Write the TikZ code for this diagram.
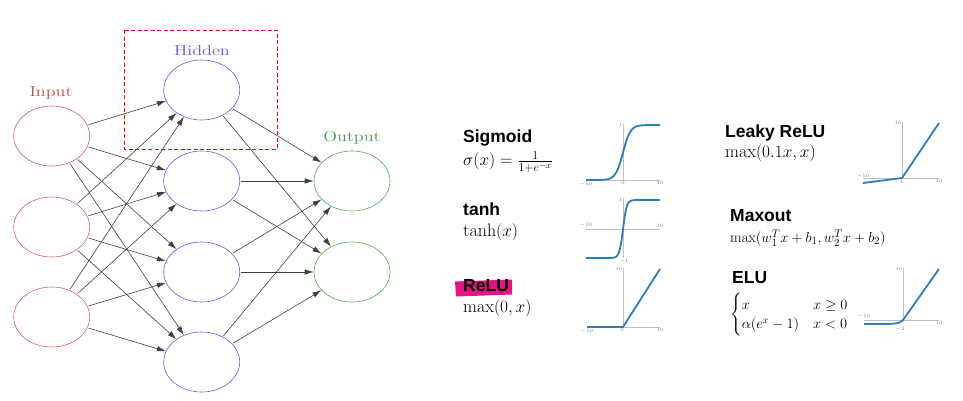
\documentclass[tikz,border=0pt]{standalone}
\usepackage{amsmath}
\usepackage{fontspec}
\newfontfamily\titlefont{Liberation Sans}
\usetikzlibrary{arrows.meta, shapes.geometric}
\definecolor{inred}{RGB}{215,95,95}
\definecolor{hidblue}{RGB}{95,95,225}
\definecolor{outgreen}{RGB}{80,170,80}
\definecolor{curveblue}{RGB}{45,125,185}
\definecolor{markpink}{RGB}{228,20,130}

\begin{document}
\begin{tikzpicture}[
                x = 10pt, y = 10pt,
                neuron/.style = {
                    ellipse,
                    minimum width  = 76pt,
                    minimum height = 60pt,
                    inner sep      = 0pt,
                    line width     = 0.6pt
                },
                netlabel/.style = {font = \fontsize{14.5}{16}\selectfont},
                synapse/.style = {
                    -{Latex[length = 9pt, width = 5.5pt]},
                    draw       = black!75,
                    line width = 0.6pt,
                    shorten <  = 1pt
                },
                actname/.style = {anchor = west, inner sep = 0pt, font = \titlefont\bfseries\fontsize{17.5}{20}\selectfont},
                actformula/.style = {anchor = west, inner sep = 0pt, font = \fontsize{18}{21}\selectfont},
                smallformula/.style = {anchor = west, inner sep = 0pt, font = \fontsize{15}{17}\selectfont},
                plotaxis/.style = {draw = black!25, line width = 0.4pt},
                plotcurve/.style = {draw = curveblue, line width = 1.8pt, line join = round},
                ticklabel/.style = {inner sep = 0.5pt, text = black!55, font = \fontsize{3.5}{4}\selectfont}
            ]

                \useasboundingbox (0, 0) rectangle (96.3, -40);

                % network
                \node[neuron, draw = inred] (in1) at (5.17, -13.6) {};
                \node[neuron, draw = inred] (in2) at (5.17, -22.7) {};
                \node[neuron, draw = inred] (in3) at (5.17, -31.7) {};

                \node[neuron, draw = hidblue] (hid1) at (20.17, -9.0) {};
                \node[neuron, draw = hidblue] (hid2) at (20.17, -18.1) {};
                \node[neuron, draw = hidblue] (hid3) at (20.17, -27.2) {};
                \node[neuron, draw = hidblue] (hid4) at (20.17, -36.2) {};

                \node[neuron, draw = outgreen] (out1) at (35.2, -18.1) {};
                \node[neuron, draw = outgreen] (out2) at (35.2, -27.2) {};

                \node[netlabel, text = inred!85!black] (inlabel) at (5.1, -9.3) {\scalebox{1.25}[1]{Input}};
                \node[netlabel, text = hidblue] (hidlabel) at (20.2, -5.1) {\scalebox{1.25}[1]{Hidden}};
                \node[netlabel, text = outgreen!90!black] (outlabel) at (35.2, -13.8) {\scalebox{1.25}[1]{Output}};

                \draw[red, dashed, line width = 0.8pt, dash pattern = on 4pt off 2.5pt] (12.4, -3.0) rectangle (27.7, -14.9);

                \draw[synapse] (in1) -- (hid1);
                \draw[synapse] (in1) -- (hid2);
                \draw[synapse] (in1) -- (hid3);
                \draw[synapse] (in1) -- (hid4);
                \draw[synapse] (in2) -- (hid1);
                \draw[synapse] (in2) -- (hid2);
                \draw[synapse] (in2) -- (hid3);
                \draw[synapse] (in2) -- (hid4);
                \draw[synapse] (in3) -- (hid1);
                \draw[synapse] (in3) -- (hid2);
                \draw[synapse] (in3) -- (hid3);
                \draw[synapse] (in3) -- (hid4);
                \draw[synapse] (hid1) -- (out1);
                \draw[synapse] (hid1) -- (out2);
                \draw[synapse] (hid2) -- (out1);
                \draw[synapse] (hid2) -- (out2);
                \draw[synapse] (hid3) -- (out1);
                \draw[synapse] (hid3) -- (out2);
                \draw[synapse] (hid4) -- (out1);
                \draw[synapse] (hid4) -- (out2);

                % activation functions, left column
                \node[actname] (signame) at (46.3, -13.8) {Sigmoid};
                \node[actformula] (sigform) at (46.3, -16.2) {$\sigma(x) = \frac{1}{1+e^{-x}}$};
                \node[actname] (tanhname) at (46.3, -20.9) {tanh};
                \node[actformula] (tanhform) at (46.3, -23.2) {$\tanh(x)$};
                \fill[markpink] (45.5, -28.15) -- (51.2, -27.95) -- (51.2, -29.45) -- (45.6, -29.65) -- cycle;
                \node[actname] (reluname) at (46.3, -28.6) {ReLU};
                \node[actformula] (reluform) at (46.3, -30.8) {$\max(0, x)$};

                % activation functions, right column
                \node[actname] (leakyname) at (72.5, -13.3) {Leaky ReLU};
                \node[actformula] (leakyform) at (72.5, -15.3) {$\max(0.1x, x)$};
                \node[actname] (maxoutname) at (73.0, -21.6) {Maxout};
                \node[smallformula] (maxoutform) at (73.0, -23.8) {$\max(w_1^Tx + b_1, w_2^Tx + b_2)$};
                \node[actname] (eluname) at (73.2, -27.8) {ELU};
                \node[smallformula, font = \fontsize{14}{16}\selectfont] (eluform) at (73.0, -31.5) {$\begin{cases} x & x \geq 0\\ \alpha(e^x - 1) & x < 0 \end{cases}$};

                % sigmoid plot
                \draw[plotaxis] (58.6, -18.0) -- (66.0, -18.0);
                \draw[plotaxis] (62.3, -18.0) -- (62.3, -12.4);
                \draw[plotcurve] (58.6, -18.0) -- plot[domain = -9:9, samples = 60] ({62.3 + 0.37*\x}, {-18.0 + 5.5/(1 + exp(-\x))}) -- (66.0, -12.5);
                \node[ticklabel, below] (sigxl) at (58.6, -18.1) {$-10$};
                \node[ticklabel, below] (sigx0) at (62.3, -18.1) {$0$};
                \node[ticklabel, below] (sigxr) at (66.0, -18.1) {$10$};
                \node[ticklabel, left] (sigy) at (62.3, -12.5) {$1$};

                % tanh plot
                \draw[plotaxis] (58.6, -22.9) -- (66.0, -22.9);
                \draw[plotaxis] (62.3, -25.8) -- (62.3, -19.9);
                \draw[plotcurve] (58.6, -25.8) -- plot[domain = -4:4, samples = 60] ({62.3 + 0.37*\x}, {-22.9 + 2.9*(1 - 2/(1 + exp(2*\x)))}) -- (66.0, -20.0);
                \node[ticklabel, above] (tanhxl) at (58.6, -22.8) {$-10$};
                \node[ticklabel, above] (tanhxr) at (66.0, -22.8) {$10$};
                \node[ticklabel, left] (tanhyt) at (62.3, -20.0) {$1$};
                \node[ticklabel, below] (tanhyb) at (62.4, -25.8) {$-1$};

                % relu plot
                \draw[plotaxis] (58.7, -32.7) -- (66.0, -32.7);
                \draw[plotaxis] (62.3, -32.7) -- (62.3, -26.8);
                \draw[plotcurve] (58.7, -32.7) -- (62.3, -32.7) -- (66.0, -26.9);
                \node[ticklabel, below] (reluxl) at (58.7, -32.8) {$-10$};
                \node[ticklabel, below] (relux0) at (62.2, -32.8) {$0$};
                \node[ticklabel, below] (reluxr) at (66.0, -32.8) {$10$};
                \node[ticklabel, left] (reluy) at (62.3, -26.9) {$10$};

                % leaky relu plot
                \draw[plotaxis] (86.3, -17.8) -- (93.9, -17.8);
                \draw[plotaxis] (90.2, -17.8) -- (90.2, -12.2);
                \draw[plotcurve] (86.3, -18.3) -- (90.2, -17.8) -- (93.9, -12.3);
                \node[ticklabel, above] (leakyxl) at (86.3, -17.9) {$-10$};
                \node[ticklabel, below] (leakyx0) at (89.9, -17.9) {$-1$};
                \node[ticklabel, below] (leakyxr) at (93.9, -17.9) {$10$};
                \node[ticklabel, left] (leakyy) at (90.2, -12.3) {$10$};

                % elu plot
                \draw[plotaxis] (86.4, -32.0) -- (93.9, -32.0);
                \draw[plotaxis] (90.3, -32.0) -- (90.3, -26.8);
                \draw[plotcurve] plot[domain = -10:0, samples = 40] ({90.3 + 0.39*\x}, {-32.0 + 0.4*(exp(\x) - 1)}) -- (93.9, -26.9);
                \node[ticklabel, above] (eluxl) at (86.4, -31.9) {$-10$};
                \node[ticklabel, below] (elux0) at (90.0, -32.6) {$-2$};
                \node[ticklabel, below] (eluxr) at (93.9, -32.1) {$10$};
                \node[ticklabel, left] (eluy) at (90.3, -26.9) {$10$};
            \end{tikzpicture}
\end{document}
